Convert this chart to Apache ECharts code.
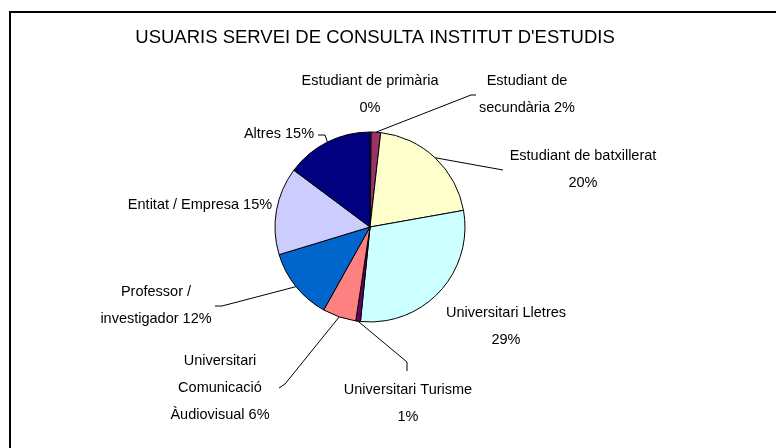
<!DOCTYPE html>
<html>
<head>
<meta charset="utf-8">
<script src="https://cdn.jsdelivr.net/npm/echarts@6/dist/echarts.min.js"></script>
<style>
html,body{margin:0;padding:0;background:#fff;}
#chart{width:776px;height:448px;}
</style>
</head>
<body>
<div id="chart"></div>
<script>
// ---- data ----
const titleText = "USUARIS SERVEI DE CONSULTA INSTITUT D'ESTUDIS";
const categories = [
  'Estudiant de primària',
  'Estudiant de secundària',
  'Estudiant de batxillerat',
  'Universitari Lletres',
  'Universitari Turisme',
  'Universitari Comunicació Àudiovisual',
  'Professor / investigador',
  'Entitat / Empresa',
  'Altres'
];
const percentages = [0.2, 1.6, 20.4, 29.4, 0.8, 5.7, 12.2, 14.9, 14.8];
// label text templates ({p} = rounded percentage)
const labelTemplates = [
  'Estudiant de primària\n{p}%',
  'Estudiant de\nsecundària {p}%',
  'Estudiant de batxillerat\n{p}%',
  'Universitari Lletres\n{p}%',
  'Universitari Turisme\n{p}%',
  'Universitari\nComunicació\nÀudiovisual {p}%',
  'Professor /\ninvestigador {p}%',
  'Entitat / Empresa {p}%',
  'Altres {p}%'
];
const colors = ['#9999FF', '#993366', '#FFFFCC', '#CCFFFF', '#660066', '#FF8080', '#0066CC', '#CCCCFF', '#000080'];

// ---- layout (styles / positions) ----
const CX = 370, CY = 227, R = 95;
// label anchor (center of text block) and leader line elbow/end
const labelPos = [
  {x: 370, y: 94, line: null},
  {x: 527, y: 94, line: [[471, 95], [476, 95]]},
  {x: 583, y: 169, line: [[503, 170], [503, 170]]},
  {x: 506, y: 326, line: null},
  {x: 408, y: 403, line: [[407, 362], [407, 371]]},
  {x: 220, y: 388, line: [[285, 384], [279, 388]]},
  {x: 156, y: 305, line: [[222, 306], [215, 306]]},
  {x: 200, y: 205, line: null},
  {x: 279, y: 134, line: [[325, 135], [318, 135]]}
];

const total = percentages.reduce((a, b) => a + b, 0);
function midEdge(i) {
  let before = 0;
  for (let k = 0; k < i; k++) before += percentages[k];
  const ang = (before + percentages[i] / 2) / total * 2 * Math.PI;
  return [CX + R * Math.sin(ang), CY - R * Math.cos(ang)];
}

const data = categories.map((name, i) => ({
  name: name,
  value: percentages[i],
  itemStyle: {color: colors[i]},
  labelLine: {show: !!labelPos[i].line}
}));

const chart = echarts.init(document.getElementById('chart'), null, {renderer: 'canvas'});
chart.setOption({
  animation: false,
  backgroundColor: '#fff',
  title: {
    text: titleText,
    left: 370,
    textAlign: 'center',
    top: 23,
    textStyle: {fontFamily: 'Liberation Sans, Arial', fontSize: 18.5, fontWeight: 'normal', color: '#000'}
  },
  graphic: [{
    type: 'rect',
    shape: {x: 10, y: 12, width: 800, height: 500},
    style: {fill: 'none', stroke: '#000', lineWidth: 2},
    silent: true
  }],
  series: [{
    type: 'pie',
    center: [CX, CY],
    radius: R,
    startAngle: 90,
    clockwise: true,
    avoidLabelOverlap: false,
    data: data,
    itemStyle: {borderColor: '#000', borderWidth: 1},
    emphasis: {disabled: true},
    label: {
      show: true,
      position: 'outside',
      fontFamily: 'Liberation Sans, Arial',
      fontSize: 14.5,
      lineHeight: 27,
      color: '#000',
      align: 'center',
      formatter: function (p) {
        return labelTemplates[p.dataIndex].replace('{p}', Math.round(p.percent));
      }
    },
    labelLine: {show: true, lineStyle: {color: '#000', width: 1}, length: 10, length2: 10},
    labelLayout: function (params) {
      const i = params.dataIndex;
      const lp = labelPos[i];
      const res = {x: lp.x, y: lp.y, align: 'center', verticalAlign: 'middle'};
      if (lp.line) {
        res.labelLinePoints = [midEdge(i), lp.line[0], lp.line[1]];
      }
      return res;
    }
  }]
});
</script>
</body>
</html>
